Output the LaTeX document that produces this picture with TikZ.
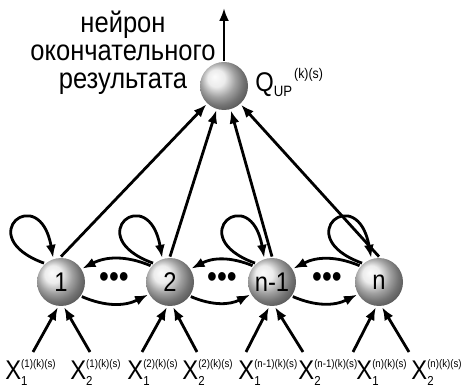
\documentclass[tikz,border=0pt]{standalone}
\usepackage{fontspec}
\setmainfont[FakeStretch=0.88]{Liberation Sans}
\usetikzlibrary{arrows.meta}
\newcommand{\inp}[2]{X\rlap{\raisebox{-6pt}{\fontsize{13}{13}\selectfont #1}}\raisebox{12pt}{\fontsize{11}{12}\selectfont (#2)(k)(s)}}
\begin{document}
\begin{tikzpicture}[x=1pt,y=1pt,>={Latex[length=13pt,width=10pt]},line width=2.8pt]
\tikzstyle{neuron}=[circle,shading=ball,ball color=gray!20,minimum size=48pt,inner sep=0pt,font=\fontsize{27}{27}\selectfont]
\tikzstyle{inlabel}=[inner sep=0pt,anchor=base west,font=\fontsize{27}{27}\selectfont]
\tikzstyle{dots}=[inner sep=0pt,font=\fontsize{32}{32}\selectfont]
\useasboundingbox (0,0) rectangle (462,385);

\node[neuron] (q) at (224,299) {};
\coordinate (qout) at (224,377);
\draw[->] (q) -- (qout);

\node[align=center,inner sep=0pt,font=\fontsize{29}{28}\selectfont] (caption) at (123,332) {нейрон\\окончательного\\результата};
\node[inner sep=0pt,anchor=base west,font=\fontsize{27}{27}\selectfont] (qlabel) at (254,293) {Q\raisebox{-4.5pt}{\fontsize{15}{15}\selectfont UP}\hspace{2pt}\raisebox{13pt}{\fontsize{14}{14}\selectfont (k)(s)}};

\node[neuron] (n1) at (61,103) {1};
\node[neuron] (n2) at (170,103) {2};
\node[neuron] (nm) at (272,103) {n-1};
\node[neuron] (nn) at (379,103) {n};

\node[dots] (d1) at (114,105) {•••};
\node[dots] (d2) at (222,105) {•••};
\node[dots] (d3) at (327,105) {•••};

% self loops
\draw[->] (n1.132) to[out=160,in=100,distance=78pt] (n1.108);
\draw[->] (n2.132) to[out=160,in=100,distance=78pt] (n2.108);
\draw[->] (nm.132) to[out=160,in=100,distance=78pt] (nm.108);
\draw[->] (nn.132) to[out=160,in=100,distance=78pt] (nn.108);

\draw[->] (n2.140) to[bend right=25] (n1.32);
\draw[->] (n1.-35) to[bend right=25] (n2.-150);
\draw[->] (nm.140) to[bend right=25] (n2.32);
\draw[->] (n2.-35) to[bend right=25] (nm.-150);
\draw[->] (nn.140) to[bend right=25] (nm.32);
\draw[->] (nm.-35) to[bend right=25] (nn.-150);

\draw[->] (n1.north) -- (q);
\draw[->] (n2.north) -- (q);
\draw[->] (nm.north) -- (q);
\draw[->] (nn.north) -- (q);

% inputs
\coordinate (i11) at (33,33);
\coordinate (i12) at (90,33);
\coordinate (i21) at (142,33);
\coordinate (i22) at (197,33);
\coordinate (im1) at (246,33);
\coordinate (im2) at (303,33);
\coordinate (in1) at (353,33);
\coordinate (in2) at (409,33);
\draw[->] (i11) -- (n1.-97);
\draw[->] (i12) -- (n1.-83);
\draw[->] (i21) -- (n2.-97);
\draw[->] (i22) -- (n2.-83);
\draw[->] (im1) -- (nm.-97);
\draw[->] (im2) -- (nm.-83);
\draw[->] (in1) -- (nn.-97);
\draw[->] (in2) -- (nn.-83);

\node[inlabel] (x11) at (4,6) {\inp{1}{1}};
\node[inlabel] (x12) at (69,6) {\inp{2}{1}};
\node[inlabel] (x21) at (126,6) {\inp{1}{2}};
\node[inlabel] (x22) at (181,6) {\inp{2}{2}};
\node[inlabel] (xm1) at (237,6) {\inp{1}{n-1}};
\node[inlabel] (xm2) at (297,6) {\inp{2}{n-1}};
\node[inlabel] (xn1) at (355,6) {\inp{1}{n}};
\node[inlabel] (xn2) at (410,6) {\inp{2}{n}};

\end{tikzpicture}
\end{document}
